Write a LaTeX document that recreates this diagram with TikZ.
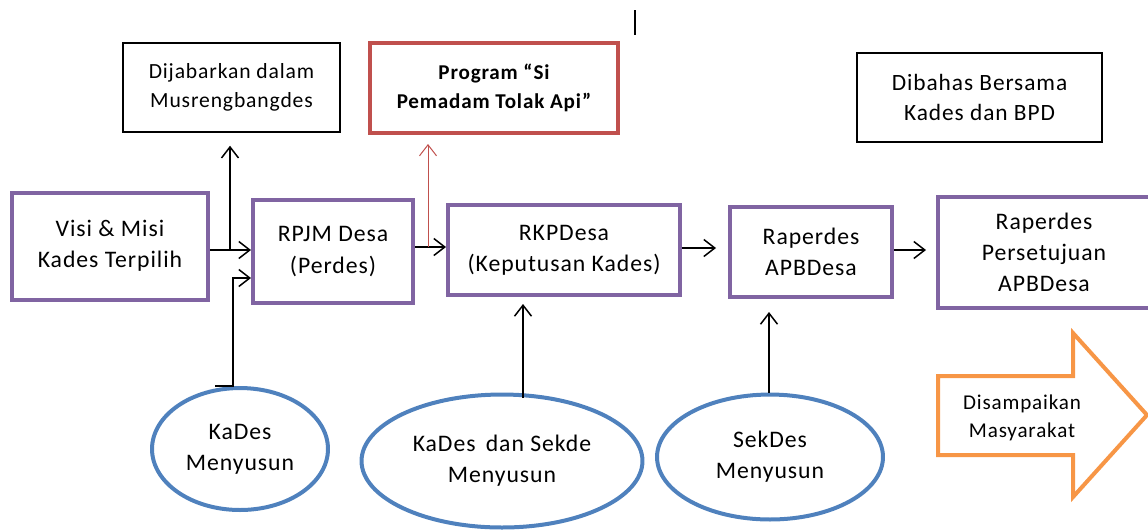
\documentclass[tikz,border=0pt]{standalone}
\usepackage{fontspec}
\setmainfont{Carlito}[LetterSpace=4]
\usetikzlibrary{arrows.meta,calc,shapes.geometric}

\definecolor{ungu}{HTML}{8064A2}
\definecolor{biru}{HTML}{4F81BD}
\definecolor{merah}{HTML}{C0504D}
\definecolor{oranye}{HTML}{F79646}

\tikzset{
  kotak/.style={draw=ungu, line width=0.08cm, align=center, inner sep=0pt,
    font=\fontsize{13.5}{17.8}\selectfont},
  catatan/.style={draw=black, line width=0.03cm, align=center, inner sep=0pt,
    font=\fontsize{12.3}{16.8}\selectfont},
  lonjong/.style={ellipse, draw=biru, line width=0.08cm, align=center, inner sep=0pt,
    font=\fontsize{13.5}{17.8}\selectfont},
  panah/.style={-{Straight Barb[length=0.22cm,width=0.34cm]}, line width=0.03cm},
}

\begin{document}
\begin{tikzpicture}[x=0.02cm, y=-0.02cm]
\useasboundingbox (0,0) rectangle (1148,529);
\clip (0,0) rectangle (1148,529);
%%%  boxes of the flow
\node[kotak, minimum width=3.92cm, minimum height=2.14cm] (visi) at (110,246) {Visi \& Misi\\Kades Terpilih};
\node[kotak, minimum width=3.2cm, minimum height=2.06cm] (rpjm) at (333,251.5) {RPJM Desa\\(Perdes)};
\node[kotak, minimum width=4.64cm, minimum height=1.8cm] (rkp) at (564,250) {RKPDesa\\(Keputusan Kades)};
\node[kotak, minimum width=3.24cm, minimum height=1.8cm] (raperdes) at (811,252) {Raperdes\\APBDesa};
\node[kotak, minimum width=4.24cm, minimum height=2.22cm] (setuju) at (1044,252.5) {Raperdes\\Persetujuan\\APBDesa};

%%%  notes on top
\node[catatan, minimum width=4.34cm, minimum height=1.78cm] (dijabar) at (231.5,87.5) {Dijabarkan dalam\\Musrengbangdes};
\node[catatan, draw=merah, line width=0.08cm, minimum width=4.96cm, minimum height=1.8cm,
  font=\bfseries\fontsize{12}{16.5}\selectfont] (program) at (494,88) {Program “Si\\Pemadam Tolak Api”};
\node[catatan, minimum width=4.9cm, minimum height=1.78cm, font=\fontsize{13.3}{17.5}\selectfont] (dibahas) at (979.5,97.5) {Dibahas Bersama\\Kades dan BPD};

%%%  who makes it
\node[lonjong, minimum width=3.52cm, minimum height=2.44cm] (kades) at (240,449) {KaDes\\Menyusun};
\node[lonjong, minimum width=5.62cm, minimum height=2.66cm] (sekde) at (502,461) {KaDes\, dan Sekde\\Menyusun};
\node[lonjong, minimum width=4.52cm, minimum height=2.5cm] (sekdes) at (770,457) {SekDes\\Menyusun};

%%%  orange arrow
\draw[oranye, line width=0.08cm, line join=miter] (938,376) -- (1073,376) -- (1073,333)
  -- (1147,415) -- (1073,497) -- (1073,455) -- (938,455) -- cycle;
\node[font=\fontsize{12}{16}\selectfont, align=center] (sampai) at (1022,418) {Disampaikan\\Masyarakat};

%%%  turning points
\coordinate (cabang) at (230,250);
\coordinate (belok) at (233,278);
\coordinate (merahx) at (428,247);
\coordinate (tengah) at (523,0);
\coordinate (tigax) at (769,0);

%%%%%%%%% draw connectors %%%%%%%%
\draw[panah] (visi.east |- cabang) -- (cabang -| rpjm.west);
\draw[panah, shorten >=0.26cm] (cabang) -- (cabang |- dijabar.south);
\draw[panah] (kades.north) ++(-25,0) -| (belok) -- (belok -| rpjm.west);
\draw[panah] (rpjm.east |- merahx) -- (merahx -| rkp.west);
\draw[panah, merah, line width=0.02cm, shorten >=0.18cm] (merahx) -- (merahx |- program.south);
\draw[panah, shorten <=-0.1cm, shorten >=0.14cm] (sekde.north -| tengah) -- (rkp.south -| tengah);
\draw[panah, shorten >=0.24cm] (rkp.east |- 0,248) -- (raperdes.west |- 0,248);
\draw[panah, shorten >=0.2cm] (raperdes.east |- 0,250) -- (setuju.west |- 0,250);
\draw[panah, shorten >=0.26cm] (sekdes.north -| tigax) -- (raperdes.south -| tigax);

%%%  cursor mark
\draw[line width=0.04cm] (635,10) -- (635,35);
\end{tikzpicture}
\end{document}
